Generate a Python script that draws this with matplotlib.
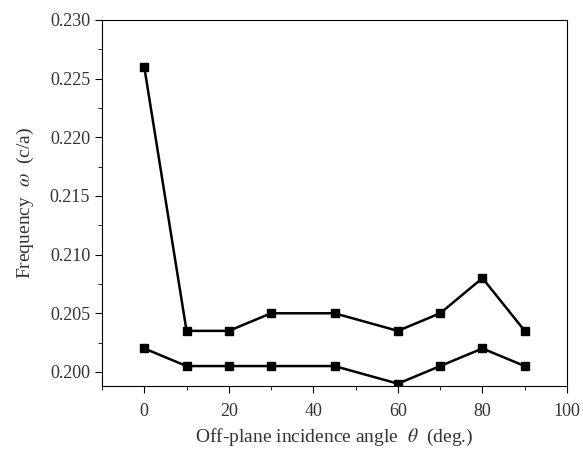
import matplotlib
matplotlib.use('Agg')
import matplotlib.pyplot as plt
from matplotlib.ticker import MultipleLocator

angle = [0, 10, 20, 30, 45, 60, 70, 80, 90]
upper = [0.226, 0.2035, 0.2035, 0.205, 0.205, 0.2035, 0.205, 0.208, 0.2035]
lower = [0.202, 0.2005, 0.2005, 0.2005, 0.2005, 0.199, 0.2005, 0.202, 0.2005]

plt.rcParams['font.family'] = ['Liberation Serif', 'DejaVu Serif']
plt.rcParams['mathtext.fontset'] = 'stix'

fig = plt.figure(figsize=(5.83, 4.51), dpi=100)
ax = fig.add_axes([102/583, 1 - 386/451, 465/583, 366/451])

ax.plot(angle, upper, c='black', lw=1.8, marker='s', ms=6)
ax.plot(angle, lower, c='black', lw=1.8, marker='s', ms=6)

ax.set_xlim(-10, 100)
ax.set_ylim(0.1988, 0.230)
ax.xaxis.set_major_locator(MultipleLocator(20))
ax.xaxis.set_minor_locator(MultipleLocator(10))
ax.yaxis.set_major_locator(MultipleLocator(0.005))
ax.yaxis.set_minor_locator(MultipleLocator(0.0025))
ax.yaxis.set_major_formatter(plt.FormatStrFormatter('%.3f'))
ax.tick_params(which='both', direction='out', top=False, right=False,
               labelsize=13, labelcolor='#333333')
ax.tick_params(which='major', length=5)
ax.tick_params(which='minor', length=3)
ax.tick_params(axis='x', pad=7)

ax.set_xlabel(r'Off-plane incidence angle  $\theta$  (deg.)', fontsize=14,
              color='#333333', labelpad=5)
ax.set_ylabel(r'Frequency  $\omega$  (c/a)', fontsize=14,
              color='#333333', labelpad=10)

fig.savefig('out.png', dpi=100)
